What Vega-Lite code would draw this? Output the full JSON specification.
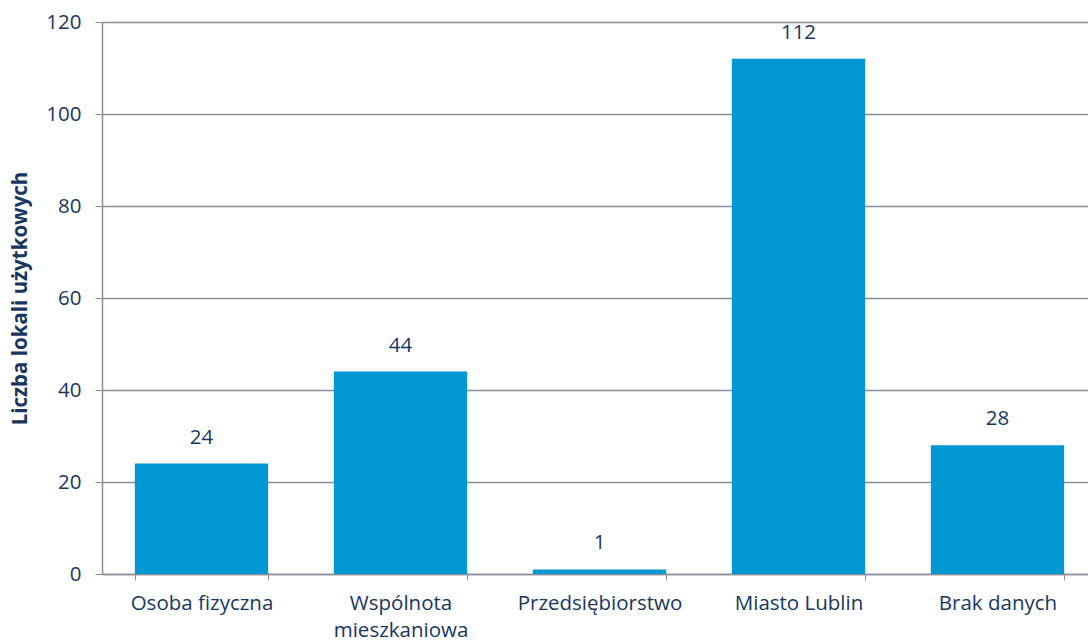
{
  "$schema": "https://vega.github.io/schema/vega-lite/v6.json",
  "autosize": "none",
  "padding": {"left": 102, "top": 22, "right": 0, "bottom": 69},
  "width": 995,
  "height": 552,
  "background": "white",
  "data": {
    "values": [
      {"wlasciciel": "Osoba fizyczna", "liczba": 24},
      {"wlasciciel": "Wspólnota mieszkaniowa", "liczba": 44},
      {"wlasciciel": "Przedsiębiorstwo", "liczba": 1},
      {"wlasciciel": "Miasto Lublin", "liczba": 112},
      {"wlasciciel": "Brak danych", "liczba": 28}
    ]
  },
  "config": {
    "view": {"stroke": null},
    "font": "Open Sans",
    "axis": {
      "labelFont": "Open Sans",
      "labelFontSize": 20.5,
      "labelColor": "#17375E",
      "domainColor": "#8C8E9A",
      "tickColor": "#8C8E9A",
      "gridColor": "#8C8E9A",
      "titleColor": "#17375E"
    }
  },
  "encoding": {
    "x": {
      "field": "wlasciciel",
      "type": "nominal",
      "sort": null,
      "scale": {"paddingInner": 0.33, "paddingOuter": 0.165},
      "axis": {
        "title": null,
        "labelAngle": 0,
        "tickBand": "extent",
        "tickSize": 6,
        "labelPadding": 13,
        "labelLineHeight": 27,
        "domainWidth": 1.5,
        "labelExpr": "datum.label == 'Wspólnota mieszkaniowa' ? ['Wspólnota', 'mieszkaniowa'] : datum.label"
      }
    },
    "y": {
      "field": "liczba",
      "type": "quantitative",
      "scale": {"domain": [0, 120], "nice": false},
      "axis": {
        "title": "Liczba lokali użytkowych",
        "titleFont": "Open Sans",
        "titleFontSize": 20.5,
        "titleFontWeight": "bold",
        "titlePadding": 15,
        "values": [0, 20, 40, 60, 80, 100, 120],
        "tickSize": 7,
        "labelPadding": 14,
        "grid": true,
        "gridWidth": 1.4,
        "domainWidth": 1.5
      }
    }
  },
  "layer": [
    {"mark": {"type": "bar", "color": "#0097D3"}},
    {
      "mark": {"type": "text", "dy": -26, "fontSize": 20.5, "color": "#17375E", "font": "Open Sans"},
      "encoding": {"text": {"field": "liczba", "type": "quantitative"}}
    }
  ]
}
